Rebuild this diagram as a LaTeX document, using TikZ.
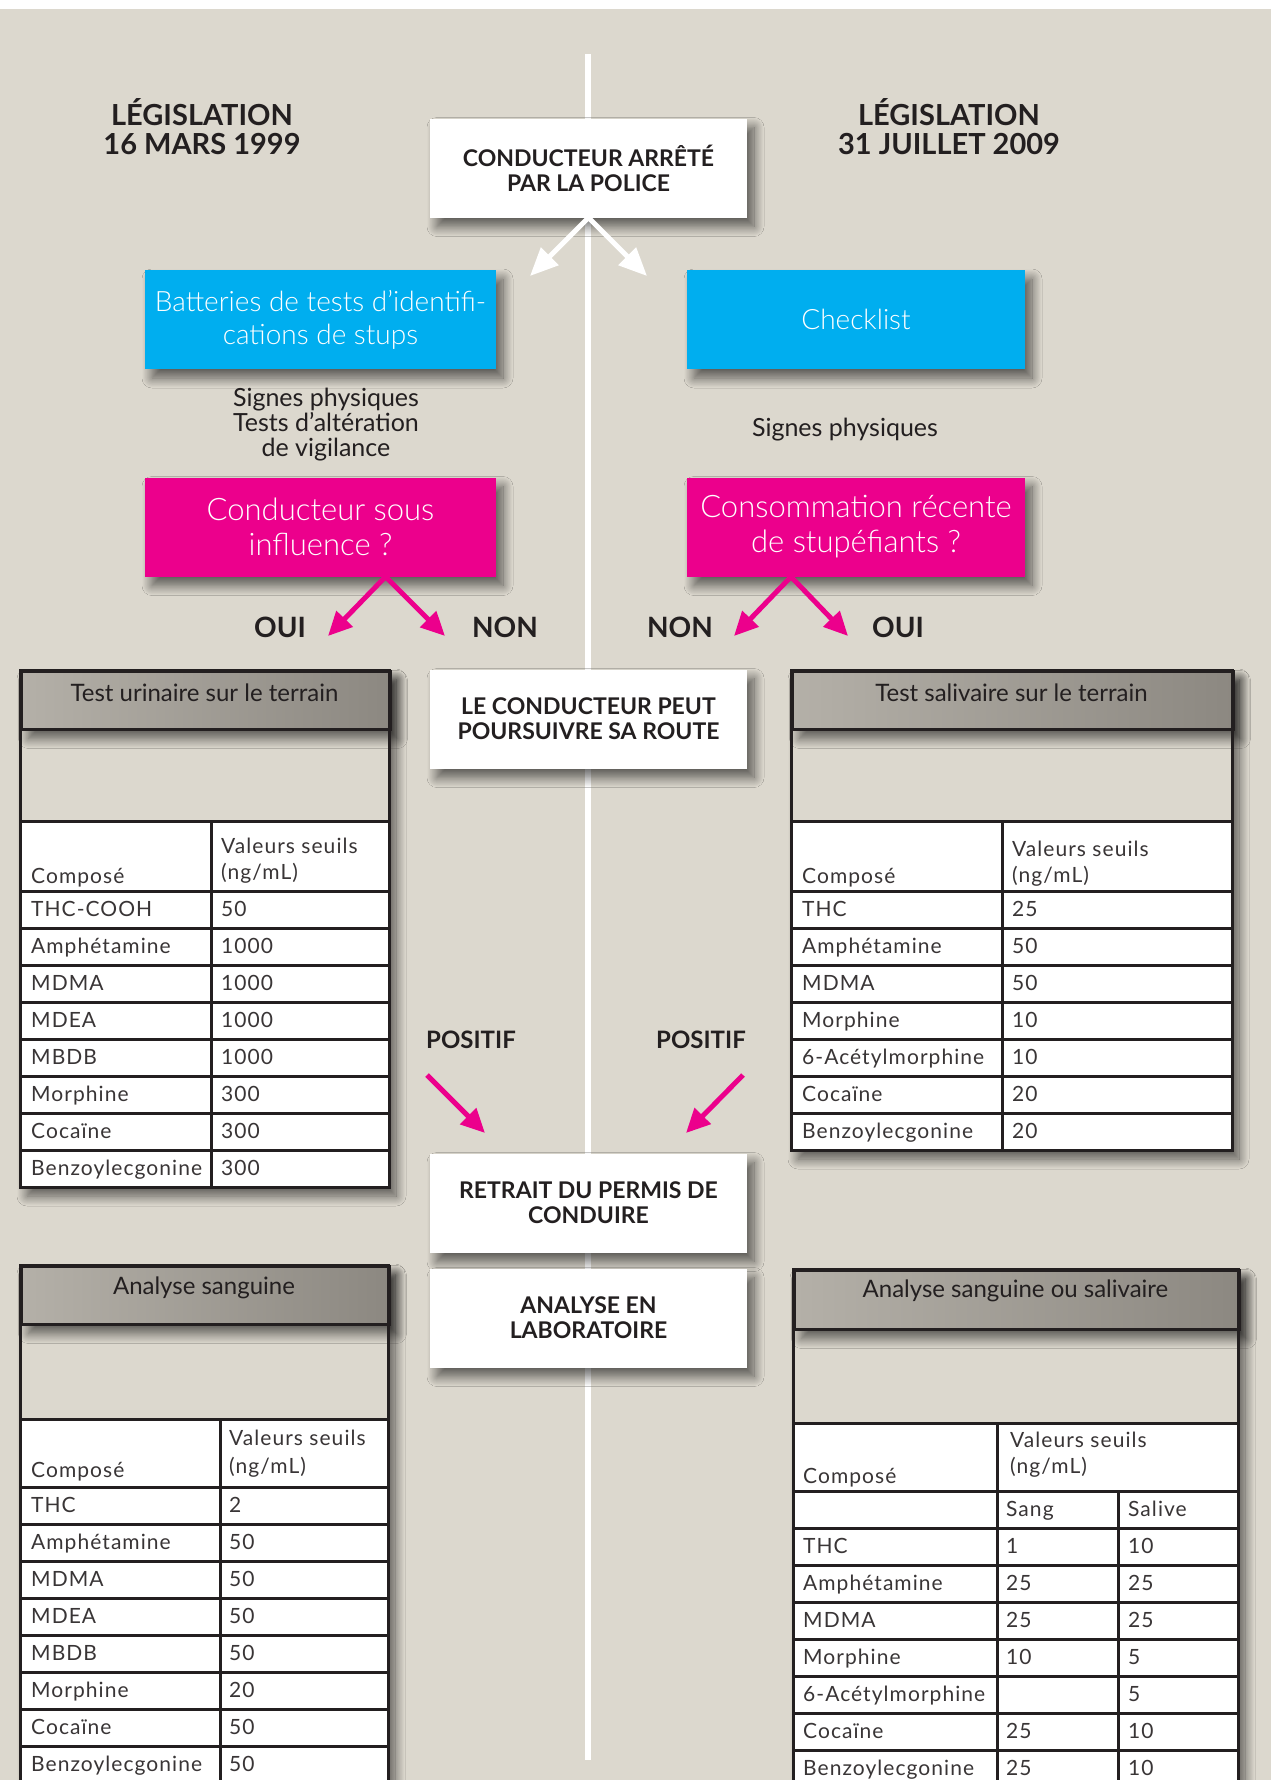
\documentclass[tikz,border=0pt]{standalone}
\usepackage{fontspec}
\setmainfont{Lato}
\newfontfamily\lightface{Lato Light}
\newfontfamily\cellface[LetterSpace=5.0]{Lato}
\usetikzlibrary{positioning,arrows.meta,shadows.blur}
\definecolor{uPaper}{HTML}{DCD8CE}
\definecolor{uCyan}{HTML}{00AEEF}
\definecolor{uRose}{HTML}{EC008C}
\definecolor{uInk}{HTML}{231F20}
\definecolor{uGreyA}{HTML}{B4B0A8}
\definecolor{uGreyB}{HTML}{D9D5CD}
\definecolor{uGreyC}{HTML}{8C8881}
\newcommand{\pxfont}[2]{\fontsize{#1}{#2}\selectfont}
\tikzset{
  lift/.style={blur shadow={shadow xshift=7pt, shadow yshift=-9pt,
               shadow blur radius=10pt, shadow blur steps=16, shadow opacity=60}},
  card/.style={lift, fill=white, minimum width=317pt, minimum height=99pt,
               inner sep=0pt, align=center, text=uInk, font=\pxfont{23}{25}\bfseries},
  cyanbox/.style={lift, fill=uCyan, minimum height=99pt, inner sep=0pt,
               align=center, text=white, font=\pxfont{28}{33}\lightface},
  rosebox/.style={cyanbox, fill=uRose, font=\pxfont{31}{35}\lightface},
  law/.style={align=center, text=uInk, font=\pxfont{29}{29}\bfseries},
  hint/.style={align=center, text=uInk, font=\pxfont{25}{25}},
  tag/.style={text=uInk, font=\pxfont{28}{28}\bfseries},
  verdict/.style={text=uInk, font=\pxfont{24}{24}\bfseries},
  pink/.style={draw=uRose, line width=5pt, -{Triangle[length=24pt, width=22pt]}},
  pale/.style={draw=white, line width=5pt, -{Triangle[length=28pt, width=24pt]}},
  % tables: thick dark rules, shaded title bar, left-set text on baselines
  rule/.style={draw=uInk, line width=3pt},
  thead/.style={lift, rule, left color=uGreyA, middle color=uGreyB, right color=uGreyC,
               anchor=north west, inner sep=0pt, minimum height=58pt},
  ttitle/.style={text=uInk, font=\pxfont{24}{24}},
  cell/.style={anchor=base west, inner sep=0pt, text=uInk!90, font=\pxfont{21}{21}\cellface},
}

\begin{document}
\begin{tikzpicture}[x=1pt, y=1pt]
\useasboundingbox (0,0) rectangle (1271,-1780);
\clip (0,0) rectangle (1271,-1780);

%% ── paper and the white spine ─────────────────────────────────────────────
\fill[white] (0,0) rectangle (1271,-9);
\fill[uPaper] (0,-9) rectangle (1271,-1780);
\draw[white, line width=6pt] (588,-54) -- (588,-1760);

%% ── the two laws, and the stop ────────────────────────────────────────────
\node[law] (lawOld) at (202,-127) {LÉGISLATION\\16 MARS 1999};
\node[law] (lawNew) at (949,-127) {LÉGISLATION\\31 JUILLET 2009};
\node[card] (police) at (588.5,-168) {CONDUCTEUR ARRÊTÉ\\PAR LA POLICE};

\coordinate (palL) at (530,-276);
\coordinate (palR) at (647,-276);
\draw[pale] (police.south) -- (palL);
\draw[pale] (police.south) -- (palR);

%% ── screening, then the question asked on each side ───────────────────────
\node[cyanbox, minimum width=351pt] (tests) at (320.5,-319.5)
  {Batteries de tests d’identifi-\\cations de stups};
\node[cyanbox, minimum width=338pt] (check) at (856,-319.5) {Checklist};

\node[hint] (signsOld) at (326,-425) {Signes physiques\\Tests d’altération\\de vigilance};
\node[hint] (signsNew) at (845,-430) {Signes physiques};

\node[rosebox, minimum width=351pt] (influ) at (320.5,-527) {Conducteur sous\\influence ?};
\node[rosebox, minimum width=338pt] (conso) at (856,-527) {Consommation récente\\de stupéfiants ?};

\coordinate (influFoot) at ([xshift=65pt]influ.south);
\coordinate (consoFoot) at ([xshift=-65pt]conso.south);
\coordinate (yesOldTip) at (328,-636);
\coordinate (noOldTip)  at (445,-636);
\coordinate (noNewTip)  at (734,-636);
\coordinate (yesNewTip) at (848,-636);
\draw[pink] (influFoot) -- (yesOldTip);
\draw[pink] (influFoot) -- (noOldTip);
\draw[pink] (consoFoot) -- (noNewTip);
\draw[pink] (consoFoot) -- (yesNewTip);

\node[tag] (yesOld) at (280,-627) {OUI};
\node[tag] (noOld)  at (505,-627) {NON};
\node[tag] (noNew)  at (680,-627) {NON};
\node[tag] (yesNew) at (898,-627) {OUI};

%% ── centre column: outcomes ───────────────────────────────────────────────
\node[card] (route)  at (588.5,-719)  {LE CONDUCTEUR PEUT\\POURSUIVRE SA ROUTE};
\node[card] (permit) at (588.5,-1203) {RETRAIT DU PERMIS DE\\CONDUIRE};
\node[card] (labo)   at (588.5,-1318) {ANALYSE EN\\LABORATOIRE};

\node[verdict] (posOld) at (471,-1040) {POSITIF};
\node[verdict] (posNew) at (701,-1040) {POSITIF};
\coordinate (posOldA) at (427,-1075);
\coordinate (posOldB) at (485,-1133);
\coordinate (posNewA) at (743,-1075);
\coordinate (posNewB) at (686,-1133);
\draw[pink] (posOldA) -- (posOldB);
\draw[pink] (posNewA) -- (posNewB);

%% ── table: urine test (1999) ──────────────────────────────────────────────
\path[lift, fill=uPaper] (20,-670) rectangle (389,-1187);
\fill[white] (20,-821) rectangle (389,-1187);
\node[thead, minimum width=369pt] (uHead) at (20,-670) {};
\node[ttitle] (uTitle) at (204.5,-693) {Test urinaire sur le terrain};
\draw[rule] (20,-670) rectangle (389,-1187);
\draw[rule] (20,-821) -- (389,-821);
\draw[rule] (211,-821) -- (211,-1187);
\foreach \y in {891,928,...,1150} \draw[rule] (20,-\y) -- (389,-\y);
\node[cell] (uKey)  at (31,-883)  {Composé};
\node[cell] (uVal1) at (221,-853) {Valeurs seuils};
\node[cell] (uVal2) at (221,-879) {(ng/mL)};
\foreach \name/\val [count=\i] in {THC-COOH/50, Amphétamine/1000, MDMA/1000,
    MDEA/1000, MBDB/1000, Morphine/300, Cocaïne/300, Benzoylecgonine/300}{
  \node[cell] (uN\i) at (31,-879.5-37*\i)  {\name};
  \node[cell] (uV\i) at (221,-879.5-37*\i) {\val};
}

%% ── table: saliva test (2009) ─────────────────────────────────────────────
\path[lift, fill=uPaper] (791,-670) rectangle (1232,-1150);
\fill[white] (791,-821) rectangle (1232,-1150);
\node[thead, minimum width=441pt] (sHead) at (791,-670) {};
\node[ttitle] (sTitle) at (1011.5,-693) {Test salivaire sur le terrain};
\draw[rule] (791,-670) rectangle (1232,-1150);
\draw[rule] (791,-821) -- (1232,-821);
\draw[rule] (1002,-821) -- (1002,-1150);
\foreach \y in {891,928,...,1113} \draw[rule] (791,-\y) -- (1232,-\y);
\node[cell] (sKey)  at (802,-883)  {Composé};
\node[cell] (sVal1) at (1012,-856) {Valeurs seuils};
\node[cell] (sVal2) at (1012,-882) {(ng/mL)};
\foreach \name/\val [count=\i] in {THC/25, Amphétamine/50, MDMA/50, Morphine/10,
    6-Acétylmorphine/10, Cocaïne/20, Benzoylecgonine/20}{
  \node[cell] (sN\i) at (802,-879.5-37*\i)  {\name};
  \node[cell] (sV\i) at (1012,-879.5-37*\i) {\val};
}

%% ── table: blood analysis (1999) ──────────────────────────────────────────
\path[lift, fill=uPaper] (20,-1265) rectangle (388,-1783);
\fill[white] (20,-1419) rectangle (388,-1783);
\node[thead, minimum width=368pt] (bHead) at (20,-1265) {};
\node[ttitle] (bTitle) at (204,-1288) {Analyse sanguine};
\draw[rule] (20,-1265) rectangle (388,-1783);
\draw[rule] (20,-1419) -- (388,-1419);
\draw[rule] (220,-1419) -- (220,-1783);
\foreach \y in {1487,1524,...,1746} \draw[rule] (20,-\y) -- (388,-\y);
\node[cell] (bKey)  at (31,-1477)  {Composé};
\node[cell] (bVal1) at (229,-1445) {Valeurs seuils};
\node[cell] (bVal2) at (229,-1473) {(ng/mL)};
\foreach \name/\val [count=\i] in {THC/2, Amphétamine/50, MDMA/50, MDEA/50,
    MBDB/50, Morphine/20, Cocaïne/50, Benzoylecgonine/50}{
  \node[cell] (bN\i) at (31,-1475.5-37*\i)  {\name};
  \node[cell] (bV\i) at (229,-1475.5-37*\i) {\val};
}

%% ── table: blood or saliva analysis (2009) ────────────────────────────────
\path[lift, fill=uPaper] (793,-1269) rectangle (1238,-1787);
\fill[white] (793,-1423) rectangle (1238,-1787);
\node[thead, minimum width=445pt, minimum height=59pt] (vHead) at (793,-1269) {};
\node[ttitle] (vTitle) at (1015.5,-1291) {Analyse sanguine ou salivaire};
\draw[rule] (793,-1269) rectangle (1238,-1787);
\draw[rule] (793,-1423) -- (1238,-1423);
\draw[rule] (997,-1423) -- (997,-1787);
\draw[rule] (1118,-1491) -- (1118,-1787);
\foreach \y in {1491,1528,...,1750} \draw[rule] (793,-\y) -- (1238,-\y);
\node[cell] (vKey)  at (803,-1483)  {Composé};
\node[cell] (vVal1) at (1010,-1447) {Valeurs seuils};
\node[cell] (vVal2) at (1010,-1473) {(ng/mL)};
\node[cell] (vSang) at (1006,-1516.5) {Sang};
\node[cell] (vSal)  at (1128,-1516.5) {Salive};
\foreach \name/\sang/\sal [count=\i] in {THC/1/10, Amphétamine/25/25, MDMA/25/25,
    Morphine/10/5, 6-Acétylmorphine/{}/5, Cocaïne/25/10, Benzoylecgonine/25/10}{
  \node[cell] (vN\i) at (803,-1516.5-37*\i)  {\name};
  \node[cell] (vA\i) at (1006,-1516.5-37*\i) {\sang};
  \node[cell] (vB\i) at (1128,-1516.5-37*\i) {\sal};
}

\end{tikzpicture}
\end{document}
